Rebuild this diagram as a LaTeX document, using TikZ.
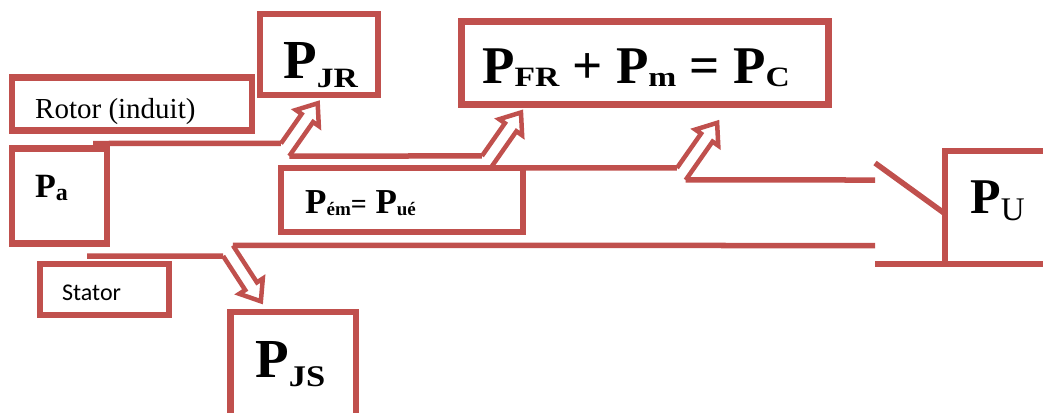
\documentclass[tikz,border=0pt]{standalone}
\usepackage{fontspec}
\usepackage{graphicx}
\setmainfont{Liberation Serif}
\newfontfamily\calfont{Carlito}
\definecolor{accred}{HTML}{C0504D}
\newcommand{\fsz}[1]{\fontsize{#1}{#1}\selectfont}
\newcommand{\PowSub}[5]{{\fsz{#1}\bfseries P}\raisebox{-#3pt}{\fsz{#2}\bfseries\scalebox{#4}[1]{#5}}}
\newcommand{\BlockArrow}[5]{%
  \draw[arrowline, shift={(#1)}, rotate=#2]
    (0,-7) coordinate (#5-l) -- (#3-18,-7) -- (#3-18,-14) -- (#3,0)
    -- (#3-18,14) -- (#3-18,7) -- (#4,7) coordinate (#5-r);}
\tikzset{
  boxline/.style={draw=accred, line width=6.5pt, rectangle, inner sep=0pt},
  flow/.style={draw=accred, line width=5.5pt},
  arrowline/.style={draw=accred, line width=4.5pt, line join=miter},
  lbl/.style={anchor=base west, inner sep=0pt, text=black},
}
\begin{document}
\begin{tikzpicture}[x=1pt,y=-1pt]
\useasboundingbox (0,0) rectangle (1043,412);
\clip (0,0) rectangle (1043,412);
% boxes
\node[boxline, minimum width=240pt, minimum height=53pt] (rotorbox) at (132,104) {};
\node[boxline, minimum width=95pt, minimum height=95pt] (pabox) at (59.5,196) {};
\node[boxline, minimum width=118pt, minimum height=81pt] (pjrbox) at (319,54.5) {};
\node[boxline, line width=7pt, minimum width=367pt, minimum height=82pt] (pfrbox) at (644.5,63) {};
\node[boxline, minimum width=242pt, minimum height=64pt] (pembox) at (402,200) {};
\node[boxline, minimum width=125pt, minimum height=113pt] (pubox) at (1007.5,207.5) {};
\node[boxline, minimum width=129pt, minimum height=51pt] (statorbox) at (104.5,289.5) {};
\node[boxline, minimum width=125.5pt, minimum height=108pt] (pjsbox) at (293.25,366) {};
% texts
\node[lbl] (rotortext) at (35,118) {\fsz{29}Rotor (induit)};
\node[lbl] (patext) at (35,197) {\PowSub{34}{24}{3}{1}{a}};
\node[lbl] (pjrtext) at (283,78) {\PowSub{55}{28}{9}{1.2}{JR}};
\node[lbl] (pfrtext) at (482,83) {\PowSub{53}{28}{3.5}{1.2}{FR}\fsz{53}\bfseries{} + \PowSub{53}{28}{3.5}{1.2}{m}\fsz{53}\bfseries{} = \PowSub{53}{28}{3.5}{1.2}{C}};
\node[lbl] (pemtext) at (305,213) {\PowSub{35}{19}{2}{1}{ém}{\fsz{28}\bfseries=}\fsz{35}\bfseries{} \PowSub{35}{19}{2}{1}{ué}};
\node[lbl] (pjstext) at (255,377) {\PowSub{55}{30}{9}{1.15}{JS}};
\node[lbl] (putext) at (970,213) {{\fsz{50}\bfseries P}\raisebox{-7pt}{\fsz{33}U}};
\node[lbl] (statortext) at (62,300) {\calfont\fsz{24}Stator};
% block arrows
\BlockArrow{286.7,147.5}{55}{54}{-5.5}{a1}
\BlockArrow{487.7,160}{55}{58}{-4.85}{a2}
\BlockArrow{682.7,172}{55}{60}{-4.85}{a3}
\BlockArrow{227.1,249.3}{-57}{62}{3.5}{a4}
% flow lines
\coordinate (rotstart) at (93,143.5);
\coordinate (statstart) at (87,256);
\coordinate (upend) at (875,180);
\coordinate (lowend) at (875,245.5);
\coordinate (swA) at (875,163);
\coordinate (swB) at (944,213);
\coordinate (botA) at (875,264);
\draw[flow] (rotstart) -- (a1-l);
\draw[flow] (a1-r) -- (a2-l);
\draw[flow] (a2-r) -- (a3-l);
\draw[flow] (a3-r) -- (upend);
\draw[flow] (statstart) -- (a4-r);
\draw[flow] (a4-l) -- (lowend);
\draw[flow] (swA) -- (swB);
\draw[flow] (botA) -- (botA -| pubox.east);
\end{tikzpicture}
\end{document}
